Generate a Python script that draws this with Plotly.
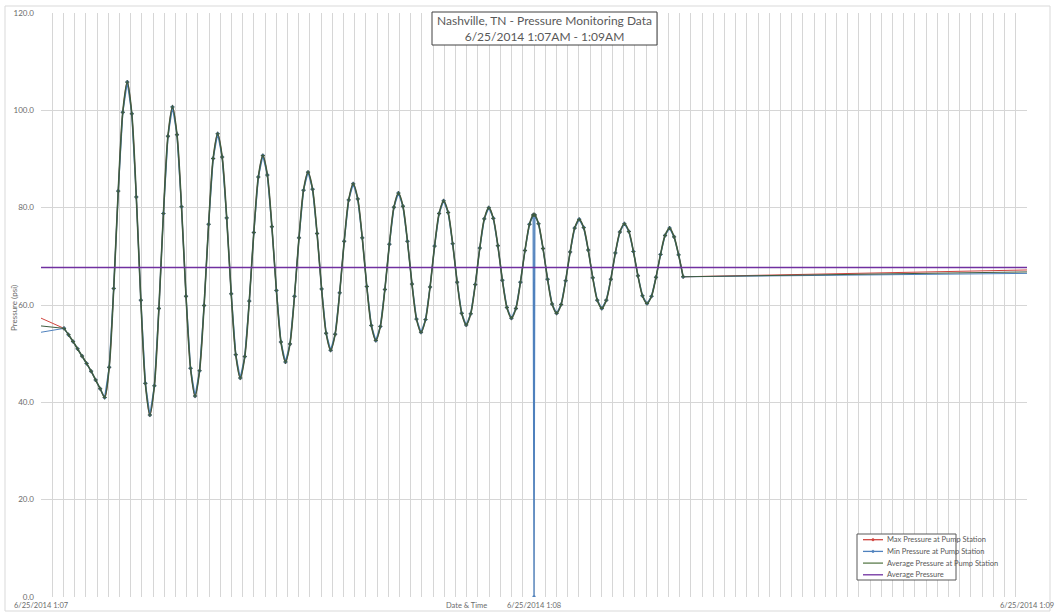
import pandas as pd
import plotly.graph_objects as go

# ---------------------------------------------------------------- data
START_TIME = "2014-06-25 01:07:00"
END_TIME = "2014-06-25 01:09:00"

SERIES_NAMES = [
    "Max Pressure at Pump Station",
    "Min Pressure at Pump Station",
    "Average Pressure at Pump Station",
    "Average Pressure",
]

# first and last logged reading of the window (seconds after 1:07:00)
EDGE_SECONDS = [0.00, 120.00]
MAX_EDGE_PSI = [57.3, 67.2]
MIN_EDGE_PSI = [54.4, 66.5]
AVG_EDGE_PSI = [55.7, 66.8]

# pressure transient logged at the pump station (seconds after 1:07:00)
PULSE_SECONDS = [
    2.80, 3.35, 3.90, 4.45, 5.00, 5.55, 6.10, 6.65, 7.20, 7.75,
    8.30, 8.85, 9.40, 9.95, 10.50, 11.05, 11.60, 12.15, 12.70, 13.25,
    13.80, 14.35, 14.90, 15.45, 16.00, 16.55, 17.10, 17.65, 18.20, 18.75,
    19.30, 19.85, 20.40, 20.95, 21.50, 22.05, 22.60, 23.15, 23.70, 24.25,
    24.80, 25.35, 25.90, 26.45, 27.00, 27.55, 28.10, 28.65, 29.20, 29.75,
    30.30, 30.85, 31.40, 31.95, 32.50, 33.05, 33.60, 34.15, 34.70, 35.25,
    35.80, 36.35, 36.90, 37.45, 38.00, 38.55, 39.10, 39.65, 40.20, 40.75,
    41.30, 41.85, 42.40, 42.95, 43.50, 44.05, 44.60, 45.15, 45.70, 46.25,
    46.80, 47.35, 47.90, 48.45, 49.00, 49.55, 50.10, 50.65, 51.20, 51.75,
    52.30, 52.85, 53.40, 53.95, 54.50, 55.05, 55.60, 56.15, 56.70, 57.25,
    57.80, 58.35, 58.90, 59.45, 59.90, 60.00, 60.10, 60.55, 61.10, 61.65,
    62.20, 62.75, 63.30, 63.85, 64.40, 64.95, 65.50, 66.05, 66.60, 67.15,
    67.70, 68.25, 68.80, 69.35, 69.90, 70.45, 71.00, 71.55, 72.10, 72.65,
    73.20, 73.75, 74.30, 74.85, 75.40, 75.95, 76.50, 77.05, 77.60, 78.15,
]
PULSE_PSI = [
    55.2, 53.9, 52.5, 51.0, 49.5, 48.0, 46.4, 44.6, 42.8, 41.0,
    47.2, 63.4, 83.4, 99.6, 105.8, 99.3, 82.2, 61.0, 43.9, 37.4,
    43.4, 59.3, 78.8, 94.7, 100.7, 95.0, 80.2, 61.8, 47.0, 41.3,
    46.5, 59.9, 76.6, 90.1, 95.2, 90.4, 77.9, 62.3, 49.8, 45.0,
    49.4, 60.8, 74.9, 86.3, 90.7, 86.7, 76.1, 63.0, 52.4, 48.3,
    52.0, 61.8, 73.8, 83.6, 87.3, 83.8, 74.7, 63.3, 54.2, 50.7,
    54.0, 62.5, 73.1, 81.6, 84.9, 81.8, 73.8, 63.8, 55.8, 52.7,
    55.6, 63.2, 72.5, 80.1, 83.0, 80.3, 73.1, 64.3, 57.1, 54.4,
    57.0, 63.7, 72.1, 78.8, 81.4, 79.0, 72.6, 64.7, 58.3, 55.9,
    58.2, 64.2, 71.7, 77.7, 80.0, 77.8, 72.2, 65.1, 59.5, 57.3,
    59.3, 64.7, 71.2, 76.6, 78.5, 78.6, 78.5, 76.7, 71.6, 65.3,
    60.2, 58.3, 60.1, 65.0, 70.9, 75.8, 77.6, 75.9, 71.3, 65.6,
    61.0, 59.3, 61.0, 65.3, 70.7, 75.0, 76.7, 75.1, 71.0, 66.0,
    61.9, 60.3, 61.8, 65.7, 70.4, 74.3, 75.8, 74.0, 70.3, 65.8,
]

# the min sensor dropped out to zero for one reading at 1:08:00
MIN_DROPOUT_SECOND = 60.00
MIN_DROPOUT_PSI = 0.0

AVERAGE_PRESSURE_PSI = 67.7

Y_TICKS = [0, 20, 40, 60, 80, 100, 120]
X_TICK_TEXT = ["6/25/2014 1:07", "6/25/2014 1:08", "6/25/2014 1:09"]
X_TICK_SECONDS = [0, 60, 120]

# ---------------------------------------------------------------- series
t0 = pd.Timestamp(START_TIME)


def stamp(sec):
    return t0 + pd.Timedelta(seconds=sec)


pulse_times = [stamp(s) for s in PULSE_SECONDS]
edge_times = [stamp(s) for s in EDGE_SECONDS]
min_pulse = [MIN_DROPOUT_PSI if s == MIN_DROPOUT_SECOND else v
             for s, v in zip(PULSE_SECONDS, PULSE_PSI)]

# connector segments from the edge readings into / out of the transient
edge_x = [edge_times[0], pulse_times[0], None, pulse_times[-1], edge_times[1]]


def edge_y(edges, pulse):
    return [edges[0], pulse[0], None, pulse[-1], edges[1]]


# ---------------------------------------------------------------- styling
W, H = 1055, 614
PLOT_L, PLOT_R, PLOT_T, PLOT_B = 41, 1027, 13, 597
FONT = "Lato, 'Liberation Sans', sans-serif"
GREY_TEXT = "#6b6b6b"
GRID = "#d6d6d6"

COLORS = ["#d0453f", "#4f81bd", "#3f5c40", "#7030a0"]
LEGEND_COLORS = ["#d0453f", "#4f81bd", "#5b7d4c", "#7030a0"]


def px_x(px):
    return (px - PLOT_L) / (PLOT_R - PLOT_L)


def px_y(py):
    return (PLOT_B - py) / (PLOT_B - PLOT_T)


fig = go.Figure()

# Max pressure
fig.add_trace(go.Scatter(
    x=edge_x, y=edge_y(MAX_EDGE_PSI, PULSE_PSI), name=SERIES_NAMES[0],
    mode="lines", line=dict(color=COLORS[0], width=1), connectgaps=False,
))
fig.add_trace(go.Scatter(
    x=pulse_times, y=PULSE_PSI, name=SERIES_NAMES[0], mode="lines+markers",
    line=dict(color=COLORS[0], width=1, shape="spline", smoothing=0.8),
    marker=dict(color=COLORS[0], size=3),
))
# Min pressure
fig.add_trace(go.Scatter(
    x=edge_x, y=edge_y(MIN_EDGE_PSI, min_pulse), name=SERIES_NAMES[1],
    mode="lines", line=dict(color=COLORS[1], width=1), connectgaps=False,
))
fig.add_trace(go.Scatter(
    x=pulse_times, y=min_pulse, name=SERIES_NAMES[1], mode="lines+markers",
    line=dict(color=COLORS[1], width=1.3),
    marker=dict(color=COLORS[1], size=3.5),
))
# Average pressure at the pump station
fig.add_trace(go.Scatter(
    x=edge_x, y=edge_y(AVG_EDGE_PSI, PULSE_PSI), name=SERIES_NAMES[2],
    mode="lines", line=dict(color=COLORS[2], width=1), connectgaps=False,
))
fig.add_trace(go.Scatter(
    x=pulse_times, y=PULSE_PSI, name=SERIES_NAMES[2], mode="lines+markers",
    line=dict(color=COLORS[2], width=1.6, shape="spline", smoothing=0.8),
    marker=dict(color=COLORS[2], size=3, symbol="cross-thin",
                line=dict(color=COLORS[2], width=1)),
))
# Overall average
fig.add_trace(go.Scatter(
    x=edge_times, y=[AVERAGE_PRESSURE_PSI, AVERAGE_PRESSURE_PSI],
    name=SERIES_NAMES[3], mode="lines",
    line=dict(color=COLORS[3], width=1.5),
))

shapes = []
annotations = []

# outer chart frame
shapes.append(dict(
    type="rect", xref="paper", yref="paper", layer="below",
    x0=px_x(5), x1=px_x(1050), y0=px_y(611), y1=px_y(6),
    line=dict(color="#d9d9d9", width=1), fillcolor="rgba(0,0,0,0)",
))

# title box
shapes.append(dict(
    type="rect", xref="paper", yref="paper", layer="above",
    x0=px_x(432), x1=px_x(657), y0=px_y(45), y1=px_y(12),
    line=dict(color="#404040", width=1), fillcolor="white",
))
annotations.append(dict(
    xref="paper", yref="paper", x=px_x(544.5), y=px_y(28.5),
    xanchor="center", yanchor="middle", showarrow=False,
    text="Nashville, TN - Pressure Monitoring Data<br>6/25/2014 1:07AM - 1:09AM",
    font=dict(family=FONT, size=12, color="#595959"),
))

# date labels along the time axis
for sec, label in zip(X_TICK_SECONDS, X_TICK_TEXT):
    annotations.append(dict(
        xref="x", yref="paper", x=stamp(sec), y=px_y(605.5),
        xanchor="center", yanchor="middle", showarrow=False,
        text=label, font=dict(family=FONT, size=7.5, color=GREY_TEXT),
    ))

# axis titles
annotations.append(dict(
    xref="paper", yref="paper", x=px_x(466), y=px_y(605.5),
    xanchor="center", yanchor="middle", showarrow=False,
    text="Date & Time", font=dict(family=FONT, size=7.5, color=GREY_TEXT),
))
annotations.append(dict(
    xref="paper", yref="paper", x=px_x(14), y=px_y(308),
    xanchor="center", yanchor="middle", showarrow=False, textangle=-90,
    text="Pressure (psi)", font=dict(family=FONT, size=8, color=GREY_TEXT),
))

# legend block
LEG_L, LEG_R, LEG_T, LEG_B = 857, 956, 534, 580
shapes.append(dict(
    type="rect", xref="paper", yref="paper", layer="above",
    x0=px_x(LEG_L), x1=px_x(LEG_R), y0=px_y(LEG_B), y1=px_y(LEG_T),
    line=dict(color="#595959", width=1), fillcolor="white",
))
for i, (name, color) in enumerate(zip(SERIES_NAMES, LEGEND_COLORS)):
    cy = 539.7 + 11.7 * i
    shapes.append(dict(
        type="line", xref="paper", yref="paper", layer="above",
        x0=px_x(863), x1=px_x(883), y0=px_y(cy), y1=px_y(cy),
        line=dict(color=color, width=1.3),
    ))
    if i < 2:
        shapes.append(dict(
            type="circle", xref="paper", yref="paper", layer="above",
            x0=px_x(871.8), x1=px_x(874.2), y0=px_y(cy + 1.2), y1=px_y(cy - 1.2),
            line=dict(color=color, width=0.5), fillcolor=color,
        ))
    annotations.append(dict(
        xref="paper", yref="paper", x=px_x(884.5), y=px_y(cy),
        xanchor="left", yanchor="middle", showarrow=False,
        text=name, font=dict(family=FONT, size=7.5, color="#595959"),
    ))

fig.update_layout(
    width=W, height=H, autosize=False,
    margin=dict(l=PLOT_L, r=W - PLOT_R, t=PLOT_T, b=H - PLOT_B, pad=0,
                autoexpand=False),
    paper_bgcolor="white", plot_bgcolor="white",
    showlegend=False,
    font=dict(family=FONT, size=8, color=GREY_TEXT),
    shapes=shapes, annotations=annotations,
)

fig.update_xaxes(
    type="date", range=[START_TIME, END_TIME], automargin=False,
    tickmode="array", tickvals=[stamp(s) for s in X_TICK_SECONDS],
    showticklabels=False,
    showgrid=True, gridcolor=GRID, gridwidth=1,
    minor=dict(dtick=120000 / 88, tick0=START_TIME, showgrid=True,
               gridcolor=GRID, gridwidth=1, ticks=""),
    ticks="", showline=False, zeroline=False,
)
fig.update_yaxes(
    range=[0, 120], automargin=False,
    tickmode="array", tickvals=Y_TICKS, tickformat=".1f",
    showgrid=True, gridcolor=GRID, gridwidth=1,
    ticks="", showline=False, zeroline=False,
    tickfont=dict(family=FONT, size=8, color=GREY_TEXT),
    ticklabelstandoff=6,
)

fig.write_html("out.html")
